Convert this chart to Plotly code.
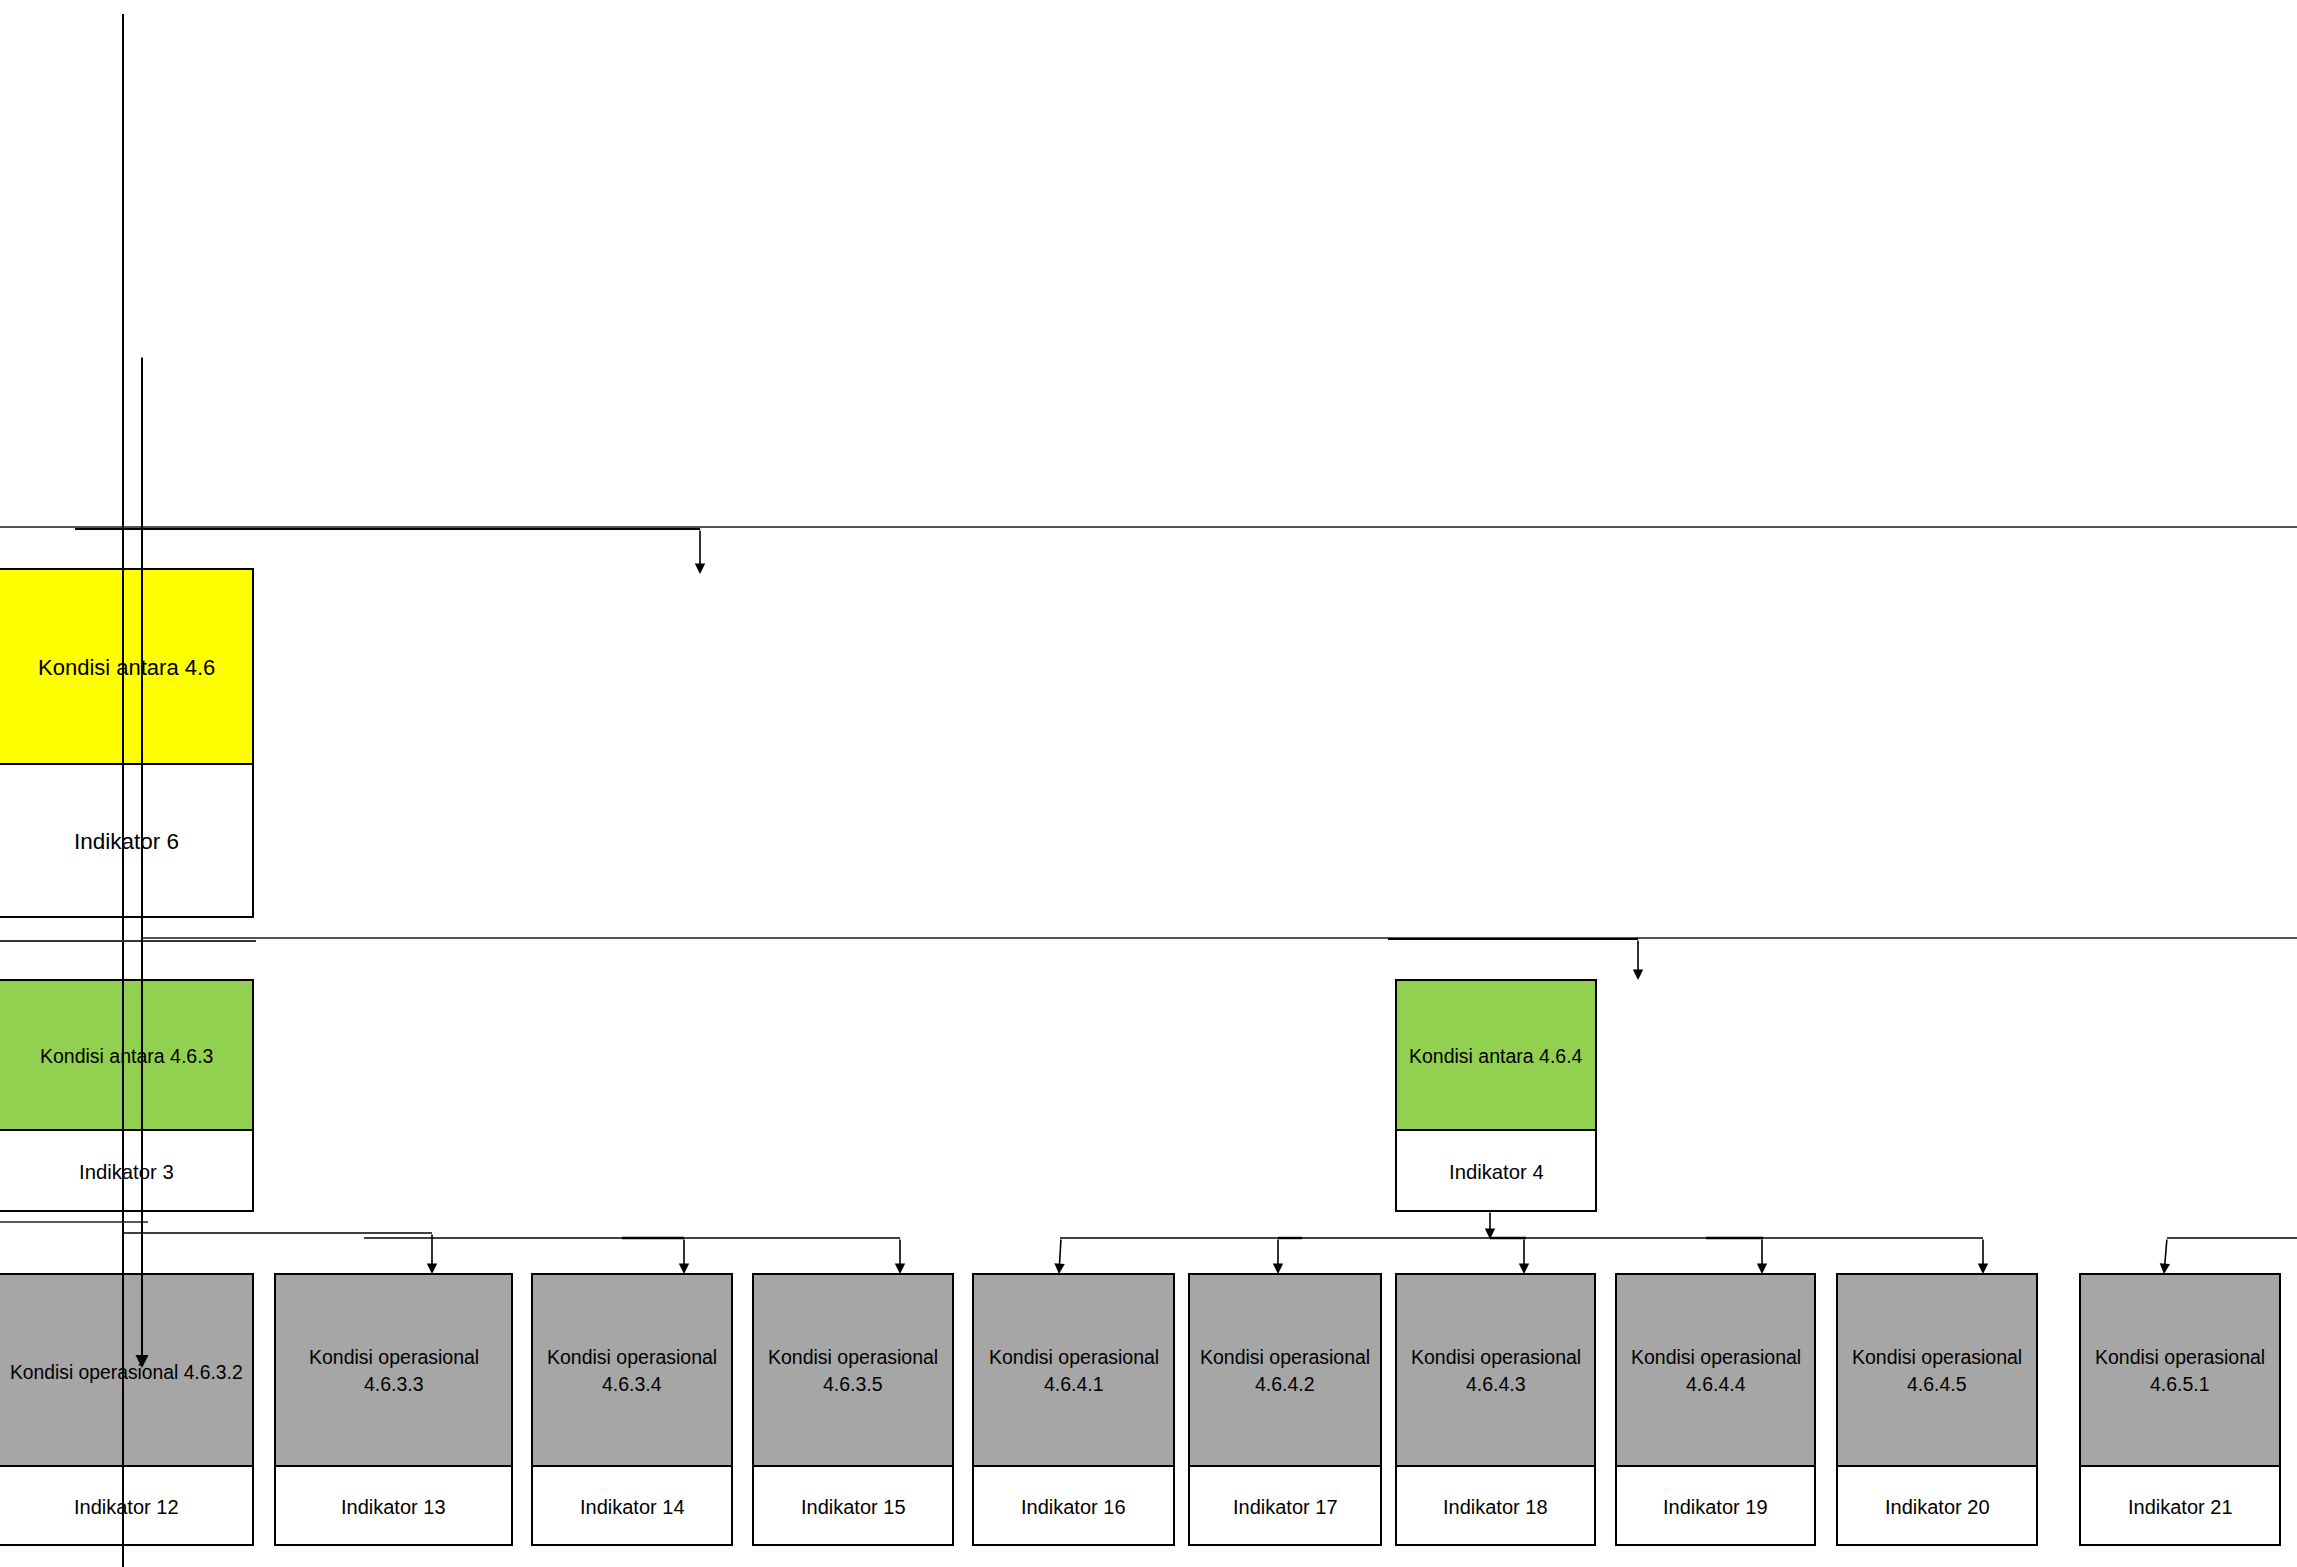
import plotly.graph_objects as go

W, H = 2297, 1567

# ---------------- content (labels) ----------------
antara_labels = ["Kondisi antara 4.6", "Kondisi antara 4.6.3", "Kondisi antara 4.6.4"]
antara_indikator = ["Indikator 6", "Indikator 3", "Indikator 4"]
operasional_codes = ["4.6.3.2", "4.6.3.3", "4.6.3.4", "4.6.3.5", "4.6.4.1",
                     "4.6.4.2", "4.6.4.3", "4.6.4.4", "4.6.4.5", "4.6.5.1"]
operasional_indikator = ["Indikator 12", "Indikator 13", "Indikator 14", "Indikator 15",
                         "Indikator 16", "Indikator 17", "Indikator 18", "Indikator 19",
                         "Indikator 20", "Indikator 21"]
operasional_prefix = "Kondisi operasional"

# ---------------- layout geometry (pixels) ----------------
antara_x0 = [-3, -3, 1396]
antara_x1 = [253, 253, 1596]
antara_top = [569, 980, 980]
antara_mid = [764, 1130, 1130]
antara_bot = [917, 1211, 1211]
antara_fill = ["#FFFF00", "#92D050", "#92D050"]
antara_font = [22, 19.5, 19.5]
antara_ind_font = [22.5, 20.3, 20.3]

ops_x0 = [-3, 275, 532, 753, 973, 1189, 1396, 1616, 1837, 2080]
ops_x1 = [253, 512, 732, 953, 1174, 1381, 1595, 1815, 2037, 2280]
ops_top, ops_mid, ops_bot = 1274, 1466, 1545
ops_fill = "#A6A6A6"

FONT = "Liberation Sans, Arial, sans-serif"

fig = go.Figure()
fig.add_trace(go.Scatter(x=[0], y=[0], mode="markers", marker=dict(opacity=0),
                         hoverinfo="skip", showlegend=False))

shapes = []
annotations = []


def rect(x0, y0, x1, y1, fill, lw=2):
    shapes.append(dict(type="rect", xref="x", yref="y", x0=x0, x1=x1, y0=y0, y1=y1,
                       fillcolor=fill, line=dict(color="black", width=lw), layer="below"))


def line(x0, y0, x1, y1, lw=1.6, color="#000000", layer="above"):
    shapes.append(dict(type="line", xref="x", yref="y", x0=x0, x1=x1, y0=y0, y1=y1,
                       line=dict(color=color, width=lw), layer=layer))


def arrow(x_tail, y_tail, x_tip, y_tip, lw=1.6):
    annotations.append(dict(x=x_tip, y=y_tip, ax=x_tail, ay=y_tail, xref="x", yref="y",
                            axref="x", ayref="y", text="", showarrow=True,
                            arrowhead=2, arrowsize=1.3, arrowwidth=lw,
                            arrowcolor="#000000", standoff=0, startstandoff=0))


def text(x, y, s, size):
    annotations.append(dict(x=x, y=y, xref="x", yref="y", text=s, showarrow=False,
                            xanchor="center", yanchor="middle",
                            font=dict(family=FONT, size=size, color="black")))


# ---------------- boxes ----------------
for i, lab in enumerate(antara_labels):
    x0, x1 = antara_x0[i], antara_x1[i]
    rect(x0, antara_top[i], x1, antara_mid[i], antara_fill[i])
    rect(x0, antara_mid[i], x1, antara_bot[i], "white")
    cx = (max(x0, 0) + x1) / 2
    text(cx, (antara_top[i] + antara_mid[i]) / 2 + 1, lab, antara_font[i])
    text(cx, (antara_mid[i] + antara_bot[i]) / 2 + 1, antara_indikator[i], antara_ind_font[i])

for i, code in enumerate(operasional_codes):
    x0, x1 = ops_x0[i], ops_x1[i]
    rect(x0, ops_top, x1, ops_mid, ops_fill)
    rect(x0, ops_mid, x1, ops_bot, "white")
    cx = (max(x0, 0) + x1) / 2
    if i == 0:
        text(cx, 1372, operasional_prefix + " " + code, 19.3)
    else:
        text(cx, 1357, operasional_prefix, 19.5)
        text(cx, 1384, code, 19.5)
    text(cx, (ops_mid + ops_bot) / 2 + 1, operasional_indikator[i], 20)

# ---------------- long guide lines ----------------
line(123, 14, 123, H, lw=2)                       # long vertical line
arrow(142, 356, 142, 1368, lw=2)                  # second vertical line with arrow
line(0, 527, W, 527, lw=1.6, color="#1a1a1a")     # top horizontal across
line(75, 529, 700, 529, lw=2.2)                   # top connector
arrow(700, 529, 700, 574)
line(142, 938, W, 938, lw=1.6, color="#1a1a1a")   # middle horizontal across
line(0, 941, 256, 941, lw=1.8, color="#333333")
line(1388, 939, 1638, 939, lw=2.2)                # middle connector
arrow(1638, 939, 1638, 980)

# ---------------- bottom connectors ----------------
line(0, 1222, 148, 1222, lw=1.6, color="#222222")
line(123, 1233, 432, 1233, lw=1.6)
arrow(432, 1233, 432, 1274)
line(364, 1238, 900, 1238, lw=1.6)
line(622, 1238, 684, 1238, lw=2.4)
arrow(684, 1238, 684, 1274)
arrow(900, 1238, 900, 1274)

arrow(1490, 1211, 1490, 1239)                     # from Indikator 4
line(1060, 1238, 1983, 1238, lw=1.6)
line(1278, 1238, 1302, 1238, lw=2.4)
line(1490, 1238, 1526, 1238, lw=2.4)
line(1706, 1238, 1763, 1238, lw=2.4)
for xa in [1278, 1524, 1762, 1983]:
    arrow(xa, 1238, xa, 1274)
arrow(1061, 1238, 1059, 1274)

line(2167, 1238, W, 1238, lw=1.6)
arrow(2167, 1238, 2164, 1274)

fig.update_layout(
    width=W, height=H,
    margin=dict(l=0, r=0, t=0, b=0, pad=0),
    paper_bgcolor="white", plot_bgcolor="white",
    xaxis=dict(range=[0, W], visible=False, fixedrange=True),
    yaxis=dict(range=[H, 0], visible=False, fixedrange=True),
    shapes=shapes, annotations=annotations,
    showlegend=False, hovermode=False,
)

fig.write_html("out.html", config={"displayModeBar": False},
               post_script="document.body.style.margin='0';document.body.style.overflow='hidden';")
